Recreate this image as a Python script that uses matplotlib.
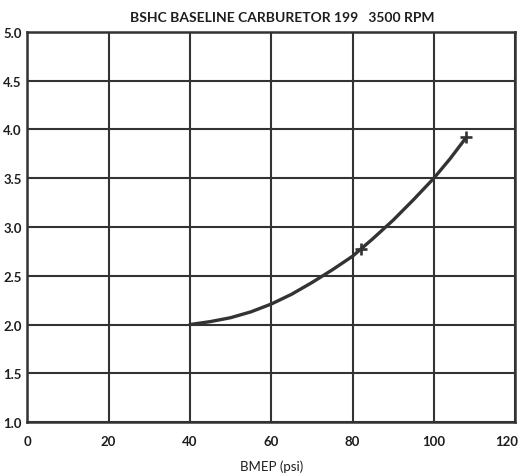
import numpy as np
import matplotlib.pyplot as plt
import matplotlib as mpl
import matplotlib.transforms as mtrans

mpl.rcParams['font.family'] = ['Lato', 'DejaVu Sans']
mpl.rcParams['font.weight'] = 'bold'

# BSHC curve, BMEP in psi
bmep = [40, 45, 50, 55, 60, 65, 70, 75, 80, 85, 90, 95, 100, 104, 108]
bshc = [2.0, 2.03, 2.07, 2.13, 2.21, 2.31, 2.43, 2.56, 2.70, 2.88, 3.07, 3.28, 3.5, 3.7, 3.92]

# measured points marked on the curve
pt_bmep = [82, 108]
pt_bshc = [2.77, 3.92]

xticks = [0, 20, 40, 60, 80, 100, 120]
yticks = [1.0, 1.5, 2.0, 2.5, 3.0, 3.5, 4.0, 4.5, 5.0]

ink = '#333333'

fig = plt.figure(figsize=(5.23, 4.77), dpi=100)
ax = fig.add_axes([0.052, 0.113, 0.933, 0.818])

ax.plot(bmep, bshc, color=ink, lw=2.4, solid_capstyle='round')
ax.plot(pt_bmep, pt_bshc, '+', color=ink, ms=9, mew=1.9)

ax.set_xlim(0, 120)
ax.set_ylim(1.0, 5.0)
ax.set_xticks(xticks)
ax.set_yticks(yticks)
ax.set_yticklabels(['%.1f' % v for v in yticks])
ax.grid(True, color=ink, lw=1.5)
ax.tick_params(length=0, labelsize=9.5, colors='#1e1e1e')
ax.tick_params(axis='x', pad=9)
ax.tick_params(axis='y', pad=4)
for s in ax.spines.values():
    s.set_color(ink)
    s.set_linewidth(1.8)

# nudge the last x label inside the page
last = ax.get_xticklabels()[-1]
last.set_transform(last.get_transform() +
                   mtrans.ScaledTranslation(-8 / 100, 0, fig.dpi_scale_trans))

ax.set_xlabel('BMEP (psi)', fontsize=9.5, color='#1e1e1e', labelpad=9)
fig.text(0.54, 0.962, 'BSHC BASELINE CARBURETOR 199   3500 RPM',
         ha='center', va='center', fontsize=10, color='#1e1e1e')

fig.savefig('out.png', dpi=100)
